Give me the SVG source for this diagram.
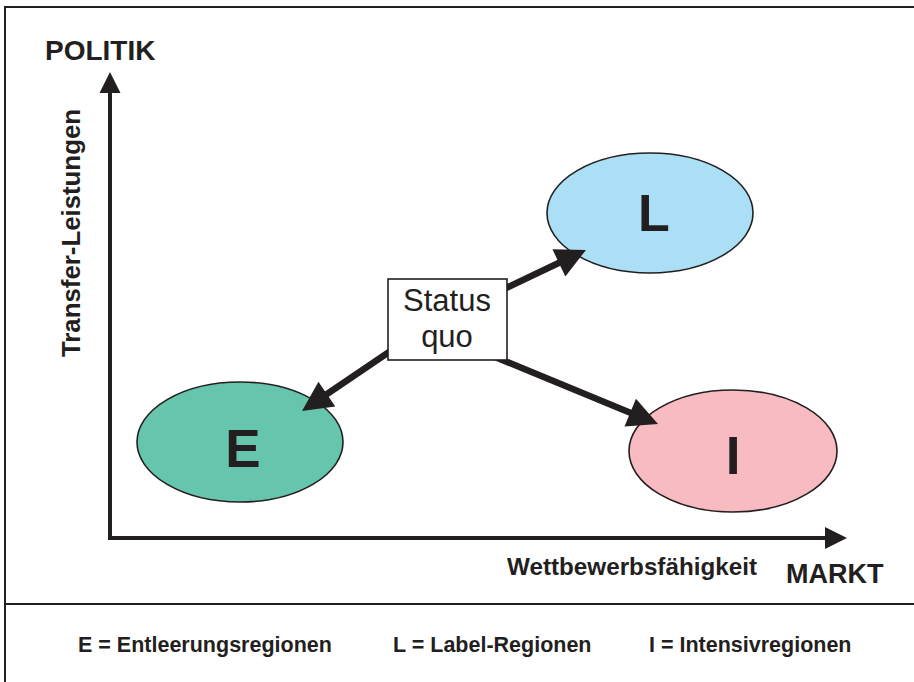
<svg xmlns="http://www.w3.org/2000/svg" width="914" height="682" viewBox="0 0 914 682">
<style>
text{font-family:"Liberation Sans",Arial,sans-serif;fill:#231f20}
.b{font-weight:bold}
.ell{stroke:#231f20;stroke-width:1.6}
.frame{stroke:#231f20;stroke-width:2;fill:none}
.axis{stroke:#231f20;stroke-width:4;fill:none}
.conn{stroke:#231f20;stroke-width:6.5;fill:none}
</style>
<defs>
<marker id="ah" markerUnits="userSpaceOnUse" markerWidth="34" markerHeight="32" refX="2" refY="15" orient="auto" overflow="visible">
<path d="M0,0 L30,15 L0,30 Z" fill="#231f20"/>
</marker>
</defs>
<rect width="914" height="682" fill="#fff"/>
<g id="frame">
<path class="frame" d="M5,682 V7 H914"/>
<path class="frame" d="M5,604 H914"/>
</g>
<g id="axes">
<path class="axis" d="M110,540 V90"/>
<path d="M99.5,93 L110,72 L120.5,93 Z" fill="#231f20"/>
<path class="axis" d="M108,538 H827"/>
<path d="M825,527 L847,538 L825,549 Z" fill="#231f20"/>
<text class="b" x="45" y="60" font-size="28">POLITIK</text>
<text class="b" x="786" y="583" font-size="27">MARKT</text>
<text class="b" x="507" y="575" font-size="24" textLength="250" lengthAdjust="spacingAndGlyphs">Wettbewerbsfähigkeit</text>
<text class="b" font-size="25" transform="translate(80,357) rotate(-90)" textLength="248" lengthAdjust="spacingAndGlyphs">Transfer-Leistungen</text>
</g>
<g id="node-L">
<ellipse class="ell" cx="650" cy="213" rx="103" ry="60" fill="#aadff6"/>
<text class="b" x="654" y="231" font-size="52" text-anchor="middle">L</text>
</g>
<g id="node-E">
<ellipse class="ell" cx="240" cy="442" rx="103" ry="60" fill="#66c5ad"/>
<text class="b" x="243" y="467" font-size="53" text-anchor="middle">E</text>
</g>
<g id="node-I">
<ellipse class="ell" cx="733" cy="451" rx="104" ry="61" fill="#f8bbc1"/>
<text class="b" x="733" y="474" font-size="53" text-anchor="middle">I</text>
</g>
<g id="connectors">
<line class="conn" x1="500" y1="291" x2="560.7" y2="262" marker-end="url(#ah)"/>
<line class="conn" x1="495" y1="357" x2="632.1" y2="413.4" marker-end="url(#ah)"/>
<line class="conn" x1="392" y1="350" x2="325.2" y2="395.3" marker-end="url(#ah)"/>
</g>
<g id="node-status">
<rect x="388" y="279" width="119" height="81" fill="#fff" stroke="#231f20" stroke-width="1.6"/>
<text x="447" y="311" font-size="31" text-anchor="middle">Status</text>
<text x="447" y="347" font-size="31" text-anchor="middle">quo</text>
</g>
<g id="legend">
<text class="b" x="78" y="652" font-size="21.5">E = Entleerungsregionen</text>
<text class="b" x="393" y="652" font-size="21.5">L = Label-Regionen</text>
<text class="b" x="649" y="652" font-size="21.5">I = Intensivregionen</text>
</g>
</svg>
